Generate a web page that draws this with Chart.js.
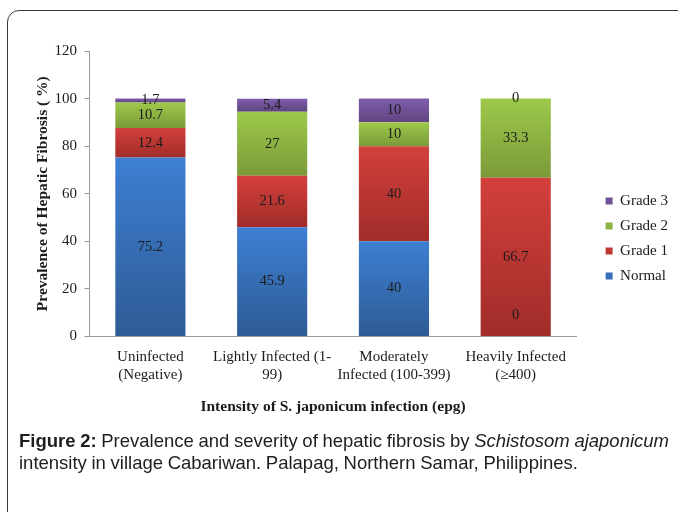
<!DOCTYPE html>
<html>
<head>
<meta charset="utf-8">
<script src="https://cdn.jsdelivr.net/npm/chart.js@4"></script>
<style>
    html, body { margin: 0; padding: 0; background: #fff; }
    body { width: 678px; height: 512px; position: relative; overflow: hidden; }
    .frame {
        position: absolute; left: 7px; top: 10px; width: 720px; height: 560px;
        border: 1.5px solid #3a3a3a; border-radius: 12px;
    }
    .chart-box { position: absolute; left: 0; top: 0; width: 678px; height: 440px; }
    .caption {
        position: absolute; left: 19px; top: 430px; width: 660px;
        font-family: "Liberation Sans", Arial, sans-serif; font-size: 18.5px;
        line-height: 22px; color: #1e1e1e; white-space: nowrap; word-spacing: -0.5px;
    }
</style>
</head>
<body>
<div class="frame"></div>
<div class="chart-box"><canvas id="chart"></canvas></div>
<div class="caption">
    <b>Figure 2:</b> Prevalence and severity of hepatic fibrosis by <i>Schistosom ajaponicum</i><br>
    intensity in village Cabariwan. Palapag, Northern Samar, Philippines.
</div>
<script>
// datos
const categories = [
    ['Uninfected', '(Negative)'],
    ['Lightly Infected (1-', '99)'],
    ['Moderately', 'Infected (100-399)'],
    ['Heavily Infected', '(≥400)']
];
const seriesNames = ['Normal', 'Grade 1', 'Grade 2', 'Grade 3'];
const normal = [75.2, 45.9, 40, 0];
const grade1 = [12.4, 21.6, 40, 66.7];
const grade2 = [10.7, 27, 10, 33.3];
const grade3 = [1.7, 5.4, 10, 0];
const yTicks = [0, 20, 40, 60, 80, 100, 120];

// colores (arriba / abajo del degradado)
const topColors = ['#3d7fd2', '#d3403c', '#9ec94b', '#7f5dab'];
const bottomColors = ['#2e5b95', '#a02c29', '#7a9a38', '#5f4580'];
const legendColors = ['#3670b8', '#bf3834', '#8cb443', '#6f5196'];

const serifFont = '"Liberation Serif", "Times New Roman", serif';

function segmentGradient(index) {
    return function (c) {
        const chart = c.chart;
        const y = chart.scales.y;
        if (!y || c.type !== 'data') return topColors[index];
        let cum = 0;
        for (let i = 0; i <= c.datasetIndex; i++) {
            cum += chart.data.datasets[i].data[c.dataIndex];
        }
        const v = chart.data.datasets[c.datasetIndex].data[c.dataIndex];
        const y0 = y.getPixelForValue(cum);
        const y1 = y.getPixelForValue(cum - v);
        if (!isFinite(y0) || !isFinite(y1) || y1 - y0 < 1) return topColors[index];
        const g = chart.ctx.createLinearGradient(0, y0, 0, y1);
        g.addColorStop(0, topColors[index]);
        g.addColorStop(1, bottomColors[index]);
        return g;
    };
}

// etiquetas dentro de cada segmento
const segmentLabels = {
    id: 'segmentLabels',
    afterDatasetsDraw(chart) {
        const ctx = chart.ctx;
        ctx.save();
        ctx.font = '14.5px ' + serifFont;
        ctx.fillStyle = '#1c1c1c';
        ctx.textAlign = 'center';
        ctx.textBaseline = 'middle';
        chart.data.datasets.forEach((ds, di) => {
            chart.getDatasetMeta(di).data.forEach((bar, i) => {
                let y = (bar.y + bar.base) / 2;
                y = Math.min(y, chart.chartArea.bottom - 21);
                ctx.fillText(String(ds.data[i]), bar.x, y);
            });
        });
        ctx.restore();
    }
};

const seriesData = [normal, grade1, grade2, grade3];

new Chart(document.getElementById('chart'), {
    type: 'bar',
    data: {
        labels: categories,
        datasets: seriesData.map((d, i) => ({
            label: seriesNames[i],
            data: d,
            backgroundColor: segmentGradient(i),
            borderWidth: 0,
            categoryPercentage: 1,
            barPercentage: 0.576
        }))
    },
    options: {
        responsive: true,
        maintainAspectRatio: false,
        animation: false,
        layout: {
            padding: { left: 35, right: 0, top: 51, bottom: 14 }
        },
        plugins: {
            tooltip: { enabled: false },
            legend: {
                position: 'right',
                reverse: true,
                labels: {
                    boxWidth: 7,
                    boxHeight: 7,
                    padding: 10,
                    color: '#1c1c1c',
                    font: { family: serifFont, size: 15 },
                    generateLabels(chart) {
                        const items = Chart.defaults.plugins.legend.labels.generateLabels(chart);
                        items.forEach(it => {
                            it.fillStyle = legendColors[it.datasetIndex];
                            it.strokeStyle = legendColors[it.datasetIndex];
                            it.lineWidth = 0;
                        });
                        return items;
                    }
                }
            }
        },
        scales: {
            x: {
                stacked: true,
                grid: { display: false },
                border: { display: true, color: '#9a9a9a', width: 1 },
                ticks: {
                    color: '#1c1c1c',
                    padding: 4,
                    maxRotation: 0,
                    autoSkip: false,
                    font: { family: serifFont, size: 15, lineHeight: 1.2 }
                },
                title: {
                    display: true,
                    text: 'Intensity of S. japonicum infection (epg)',
                    color: '#1c1c1c',
                    font: { family: serifFont, size: 15.5, weight: 'bold' },
                    padding: { top: 9, bottom: 10 }
                }
            },
            y: {
                stacked: true,
                min: 0,
                max: 120,
                afterBuildTicks(scale) {
                    scale.ticks = yTicks.map(v => ({ value: v }));
                },
                grid: { drawOnChartArea: false, drawTicks: true, tickLength: 5, color: '#9a9a9a' },
                border: { display: true, color: '#9a9a9a', width: 1 },
                ticks: {
                    color: '#1c1c1c',
                    padding: 7.5,
                    font: { family: serifFont, size: 15 }
                },
                title: {
                    display: true,
                    text: 'Prevalence of Hepatic Fibrosis ( %)',
                    color: '#1c1c1c',
                    font: { family: serifFont, size: 15.5, weight: 'bold', lineHeight: 1 },
                    padding: { top: 0, bottom: -3.5 }
                }
            },
            yPad: {
                axis: 'y',
                position: 'right',
                display: true,
                grid: { display: false },
                border: { display: false },
                ticks: { display: false },
                afterFit(scale) { scale.width = 19; }
            }
        }
    },
    plugins: [segmentLabels]
});
</script>
</body>
</html>
